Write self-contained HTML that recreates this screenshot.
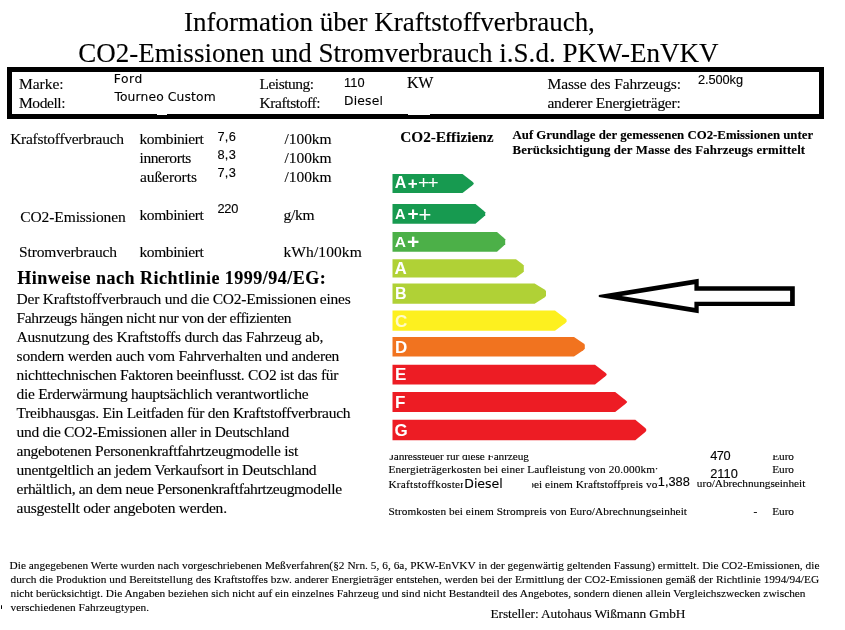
<!DOCTYPE html>
<html lang="de"><head><meta charset="utf-8"><title>PKW-EnVKV</title>
<style>
html,body{margin:0;padding:0;background:#fff;}
body{width:845px;height:630px;position:relative;overflow:hidden;font-family:"Liberation Serif",serif;color:#000;}
.t{position:absolute;white-space:nowrap;margin:0;line-height:20px;-webkit-text-stroke:0.12px #000;}
.s{font-family:"Liberation Sans",sans-serif;}
.d{font-family:"DejaVu Sans","Liberation Sans",sans-serif;}
.b{font-weight:bold;}
.box{position:absolute;left:7px;top:67px;width:807px;height:41.7px;border:5px solid #000;}
.bars{position:absolute;left:0;top:0;}
.bl{font-family:"Liberation Sans",sans-serif;font-weight:bold;fill:#fff;}
.th{font-weight:normal;}
.w{position:absolute;background:#fff;}
.k{position:absolute;background:#000;}
.cl{position:absolute;overflow:hidden;}
p{margin:0;}
span.t{display:block;}
</style></head><body>
<section class="title">
<div class="t" style="left:184.00px;top:11.59px;font-size:27px;letter-spacing:-0.006px;">Information über Kraftstoffverbrauch,</div>
<div class="t" style="left:78.30px;top:42.59px;font-size:27px;letter-spacing:0.010px;">CO2-Emissionen und Stromverbrauch i.S.d. PKW-EnVKV</div>
</section>
<section class="vehicle">
<div class="box"></div>
<div class="t" style="left:19.00px;top:73.77px;font-size:15.5px;letter-spacing:-0.040px;">Marke:</div>
<div class="t" style="left:19.00px;top:92.67px;font-size:15.5px;letter-spacing:-0.433px;">Modell:</div>
<div class="t d" style="left:113.80px;top:69.14px;font-size:12.3px;letter-spacing:0.533px;">Ford</div>
<div class="t d" style="left:114.40px;top:87.24px;font-size:12.3px;letter-spacing:0.138px;">Tourneo Custom</div>
<div class="t" style="left:259.50px;top:73.77px;font-size:15.5px;letter-spacing:-0.500px;">Leistung:</div>
<div class="t" style="left:259.50px;top:92.67px;font-size:15.5px;letter-spacing:-0.400px;">Kraftstoff:</div>
<div class="t s" style="left:344.00px;top:73.16px;font-size:12.8px;letter-spacing:0.125px;">110</div>
<div class="t d" style="left:344.00px;top:91.24px;font-size:12.3px;letter-spacing:0.200px;">Diesel</div>
<div class="t" style="left:407.00px;top:73.40px;font-size:16px;letter-spacing:-0.250px;">KW</div>
<div class="t" style="left:547.50px;top:73.77px;font-size:15.5px;letter-spacing:-0.132px;">Masse des Fahrzeugs:</div>
<div class="t" style="left:547.50px;top:92.67px;font-size:15.5px;letter-spacing:-0.262px;">anderer Energieträger:</div>
<div class="t s" style="left:698.00px;top:69.56px;font-size:12.8px;letter-spacing:-0.083px;">2.500kg</div>
<div class="w" style="left:156.7px;top:112px;width:10.3px;height:3px;"></div><div class="w" style="left:407.8px;top:112px;width:22.4px;height:3.1px;"></div>
</section>
<section class="consumption">
<div class="t" style="left:10.20px;top:128.67px;font-size:15.5px;letter-spacing:-0.271px;">Krafstoffverbrauch</div>
<div class="t" style="left:139.50px;top:128.67px;font-size:15.5px;letter-spacing:-0.417px;">kombiniert</div>
<div class="t" style="left:139.50px;top:147.67px;font-size:15.5px;letter-spacing:-0.406px;">innerorts</div>
<div class="t" style="left:140.00px;top:166.67px;font-size:15.5px;letter-spacing:-0.094px;">außerorts</div>
<div class="t s" style="left:217.50px;top:127.06px;font-size:12.8px;letter-spacing:0.250px;">7,6</div>
<div class="t s" style="left:217.50px;top:144.56px;font-size:12.8px;letter-spacing:0.250px;">8,3</div>
<div class="t s" style="left:217.50px;top:162.76px;font-size:12.8px;letter-spacing:0.250px;">7,3</div>
<div class="t" style="left:284.50px;top:128.67px;font-size:15.5px;letter-spacing:-0.050px;">/100km</div>
<div class="t" style="left:284.50px;top:147.67px;font-size:15.5px;letter-spacing:-0.050px;">/100km</div>
<div class="t" style="left:284.50px;top:166.67px;font-size:15.5px;letter-spacing:-0.050px;">/100km</div>
<div class="t" style="left:20.25px;top:207.27px;font-size:15.5px;letter-spacing:-0.096px;">CO2-Emissionen</div>
<div class="t" style="left:139.50px;top:204.67px;font-size:15.5px;letter-spacing:-0.417px;">kombiniert</div>
<div class="t s" style="left:217.50px;top:198.56px;font-size:12.8px;letter-spacing:-0.250px;">220</div>
<div class="t" style="left:283.50px;top:204.67px;font-size:15.5px;letter-spacing:-0.250px;">g/km</div>
<div class="t" style="left:19.00px;top:242.27px;font-size:15.5px;letter-spacing:-0.135px;">Stromverbrauch</div>
<div class="t" style="left:139.50px;top:242.27px;font-size:15.5px;letter-spacing:-0.417px;">kombiniert</div>
<div class="t" style="left:283.50px;top:242.27px;font-size:15.5px;letter-spacing:0.094px;">kWh/100km</div>
</section>
<section class="hints">
<div class="t b" style="left:17.20px;top:267.62px;font-size:18px;letter-spacing:0.487px;">Hinweise nach Richtlinie 1999/94/EG:</div>
<p>
<span class="t" style="left:16.60px;top:288.87px;font-size:15.5px;letter-spacing:-0.237px;">Der Kraftstoffverbrauch und die CO2-Emissionen eines</span>
<span class="t" style="left:16.60px;top:307.87px;font-size:15.5px;letter-spacing:-0.386px;">Fahrzeugs hängen nicht nur von der effizienten</span>
<span class="t" style="left:16.60px;top:326.87px;font-size:15.5px;letter-spacing:-0.231px;">Ausnutzung des Kraftstoffs durch das Fahrzeug ab,</span>
<span class="t" style="left:16.60px;top:345.87px;font-size:15.5px;letter-spacing:-0.216px;">sondern werden auch vom Fahrverhalten und anderen</span>
<span class="t" style="left:16.60px;top:364.87px;font-size:15.5px;letter-spacing:-0.271px;">nichttechnischen Faktoren beeinflusst. CO2 ist das für</span>
<span class="t" style="left:16.60px;top:383.87px;font-size:15.5px;letter-spacing:-0.313px;">die Erderwärmung hauptsächlich verantwortliche</span>
<span class="t" style="left:16.60px;top:402.87px;font-size:15.5px;letter-spacing:-0.289px;">Treibhausgas. Ein Leitfaden für den Kraftstoffverbrauch</span>
<span class="t" style="left:16.60px;top:421.87px;font-size:15.5px;letter-spacing:-0.306px;">und die CO2-Emissionen aller in Deutschland</span>
<span class="t" style="left:16.60px;top:440.87px;font-size:15.5px;letter-spacing:-0.309px;">angebotenen Personenkraftfahrtzeugmodelle ist</span>
<span class="t" style="left:16.60px;top:459.87px;font-size:15.5px;letter-spacing:-0.299px;">unentgeltlich an jedem Verkaufsort in Deutschland</span>
<span class="t" style="left:16.60px;top:478.87px;font-size:15.5px;letter-spacing:-0.338px;">erhältlich, an dem neue Personenkraftfahrtzeugmodelle</span>
<span class="t" style="left:16.60px;top:497.87px;font-size:15.5px;letter-spacing:-0.223px;">ausgestellt oder angeboten werden.</span>
</p>
</section>
<section class="efficiency">
<div class="t b" style="left:400.25px;top:127.14px;font-size:15.3px;letter-spacing:-0.021px;">CO2-Effizienz</div>
<div class="t b" style="left:512.50px;top:124.68px;font-size:12.8px;letter-spacing:0.010px;">Auf Grundlage der gemessenen CO2-Emissionen unter</div>
<div class="t b" style="left:512.50px;top:139.58px;font-size:12.8px;letter-spacing:0.122px;">Berücksichtigung der Masse des Fahrzeugs ermittelt</div>
<svg class="bars" width="845" height="630" viewBox="0 0 845 630">
<path d="M392.5 174H462.5L472.2 181.5L473.7 183.0V184.0L472.2 185.5L462.5 193H392.5Z" fill="#179a50"/>
<text class="bl"><tspan x="394.8" y="187.9" font-size="16">A</tspan><tspan x="407.7" y="189" font-size="17">+</tspan><tspan x="417.9" y="189.4" class="th" font-size="19">+</tspan><tspan x="427.4" y="189.4" class="th" font-size="19">+</tspan></text>
<path d="M392.5 204H475.5L483.7 210.8L485.2 212.3V215.3L483.7 216.8L475.5 223.7H392.5Z" fill="#179a50"/>
<text class="bl"><tspan x="395" y="218.9" font-size="14.5">A</tspan><tspan x="407.6" y="220.4" font-size="19">+</tspan><tspan x="418.4" y="221.5" class="th" font-size="22">+</tspan></text>
<path d="M392.5 232H497L503.7 237.8L505.2 239.3V244.3L503.7 245.8L497 251.7H392.5Z" fill="#4cb048"/>
<text class="bl"><tspan x="394.8" y="247.2" font-size="15.5">A</tspan><tspan x="407" y="249.3" font-size="21">+</tspan></text>
<path d="M392.5 259.2H516L522.3 263.9L523.8 265.4V271.4L522.3 272.9L516 277.6H392.5Z" fill="#b0d136"/>
<text x="394.6" y="274.2" class="bl" font-size="17">A</text>
<path d="M392.5 283.5H534.6L544.5 289.6L546 291.1V296.1L544.5 297.6L534.6 303.8H392.5Z" fill="#b0d136"/>
<text x="395" y="299.1" class="bl" font-size="16">B</text>
<path d="M392.5 310.6H555L565.1 318.2L566.6 319.7V321.7L565.1 323.2L555 330.8H392.5Z" fill="#fdf01f"/>
<text x="395" y="326.5" class="bl" font-size="17" style="fill:#fffbc8">C</text>
<path d="M392.5 337H574L583.3 343.3L584.8 344.8V348.8L583.3 350.3L574 356.6H392.5Z" fill="#f1731f"/>
<text x="395" y="352.6" class="bl" font-size="17">D</text>
<path d="M392.5 364.8H595L605.1 372.6L606.6 374.1V375.1L605.1 376.6L595 384.4H392.5Z" fill="#ed1c24"/>
<text x="395" y="380.4" class="bl" font-size="17">E</text>
<path d="M392.5 392H615.2L625.3 399.9L626.8 401.4V402.4L625.3 403.9L615.2 411.9H392.5Z" fill="#ed1c24"/>
<text x="395" y="407.7" class="bl" font-size="17">F</text>
<path d="M392.5 419.8H635.3L644.7 427.5L646.2 429.0V431.0L644.7 432.5L635.3 440.2H392.5Z" fill="#ed1c24"/>
<text x="394.6" y="435.8" class="bl" font-size="17">G</text>
<path d="M598.8 295L698.7 278.8V286.3H794.8V306.1H698.7V313.2L598.8 297ZM621.6 296L694.4 284.2V290.8H790.1V301.7H694.4V307.8Z" fill="#000" fill-rule="evenodd"/>
</svg>
</section>
<section class="costs">
<div class="cl" style="left:380px;top:454.6px;width:160.0px;height:10.4px;"><div class="t" style="left:9.40px;top:-8.71px;font-size:11.3px;letter-spacing:-0.087px;">Jahressteuer für diese Fahrzeug</div></div>
<div class="t" style="left:388.40px;top:459.39px;font-size:11.3px;letter-spacing:0.107px;">Energieträgerkosten bei einer Laufleistung von 20.000km:</div>
<div class="w" style="left:654.6px;top:470.4px;width:4.5px;height:4.5px;"></div>
<div class="cl" style="left:380px;top:476px;width:83.4px;height:18.0px;"><div class="t" style="left:8.40px;top:-2.21px;font-size:11.3px;letter-spacing:0.250px;">Kraftstoffkosten</div></div>
<div class="t d" style="left:464.30px;top:473.98px;font-size:12.5px;letter-spacing:-0.020px;">Diesel</div>
<div class="cl" style="left:532px;top:476px;width:126.2px;height:18.0px;"><div class="t" style="left:-3.80px;top:-2.51px;font-size:11.3px;letter-spacing:0.060px;">bei einem Kraftstoffpreis von</div></div>
<div class="t s" style="left:657.80px;top:471.56px;font-size:12.8px;">1,388</div>
<div class="cl" style="left:697.3px;top:476px;width:117.7px;height:18.0px;"><div class="t" style="left:-7.40px;top:-2.61px;font-size:11.3px;letter-spacing:-0.030px;">Euro/Abrechnungseinheit</div></div>
<div class="t" style="left:388.40px;top:501.39px;font-size:11.3px;letter-spacing:0.057px;">Stromkosten bei einem Strompreis von Euro/Abrechnungseinheit</div>
<div class="t s" style="left:710.25px;top:445.86px;font-size:12.8px;letter-spacing:-0.500px;">470</div>
<div class="t s" style="left:710.25px;top:463.56px;font-size:12.8px;">2110</div>
<div class="cl" style="left:770px;top:454.6px;width:30.0px;height:10.4px;"><div class="t" style="left:2.25px;top:-8.81px;font-size:11.3px;letter-spacing:-0.083px;">Euro</div></div>
<div class="t" style="left:772.25px;top:459.29px;font-size:11.3px;letter-spacing:-0.083px;">Euro</div>
<div class="t" style="left:772.25px;top:501.29px;font-size:11.3px;letter-spacing:-0.083px;">Euro</div>
<div class="t" style="left:753.50px;top:501.29px;font-size:11.3px;">-</div>
</section>
<section class="footer">
<div class="t" style="left:9.50px;top:554.89px;font-size:11.3px;letter-spacing:0.040px;">Die angegebenen Werte wurden nach vorgeschriebenen Meßverfahren(§2 Nrn. 5, 6, 6a, PKW-EnVKV in der gegenwärtig geltenden Fassung) ermittelt. Die CO2-Emissionen, die</div>
<div class="t" style="left:10.50px;top:568.89px;font-size:11.3px;letter-spacing:0.028px;">durch die Produktion und Bereitstellung des Kraftstoffes bzw. anderer Energieträger entstehen, werden bei der Ermittlung der CO2-Emissionen gemäß der Richtlinie 1994/94/EG</div>
<div class="t" style="left:10.50px;top:582.89px;font-size:11.3px;letter-spacing:0.012px;">nicht berücksichtigt. Die Angaben beziehen sich nicht auf ein einzelnes Fahrzeug und sind nicht Bestandteil des Angebotes, sondern dienen allein Vergleichszwecken zwischen</div>
<div class="t" style="left:10.50px;top:596.89px;font-size:11.3px;letter-spacing:0.046px;">verschiedenen Fahrzeugtypen.</div>
<div class="t" style="left:490.50px;top:603.68px;font-size:13.4px;letter-spacing:-0.103px;">Ersteller: Autohaus Wißmann GmbH</div>
<div class="k" style="left:0.9px;top:605.2px;width:1.3px;height:3.5px;border-radius:0.6px;"></div>
</section>
</body></html>
